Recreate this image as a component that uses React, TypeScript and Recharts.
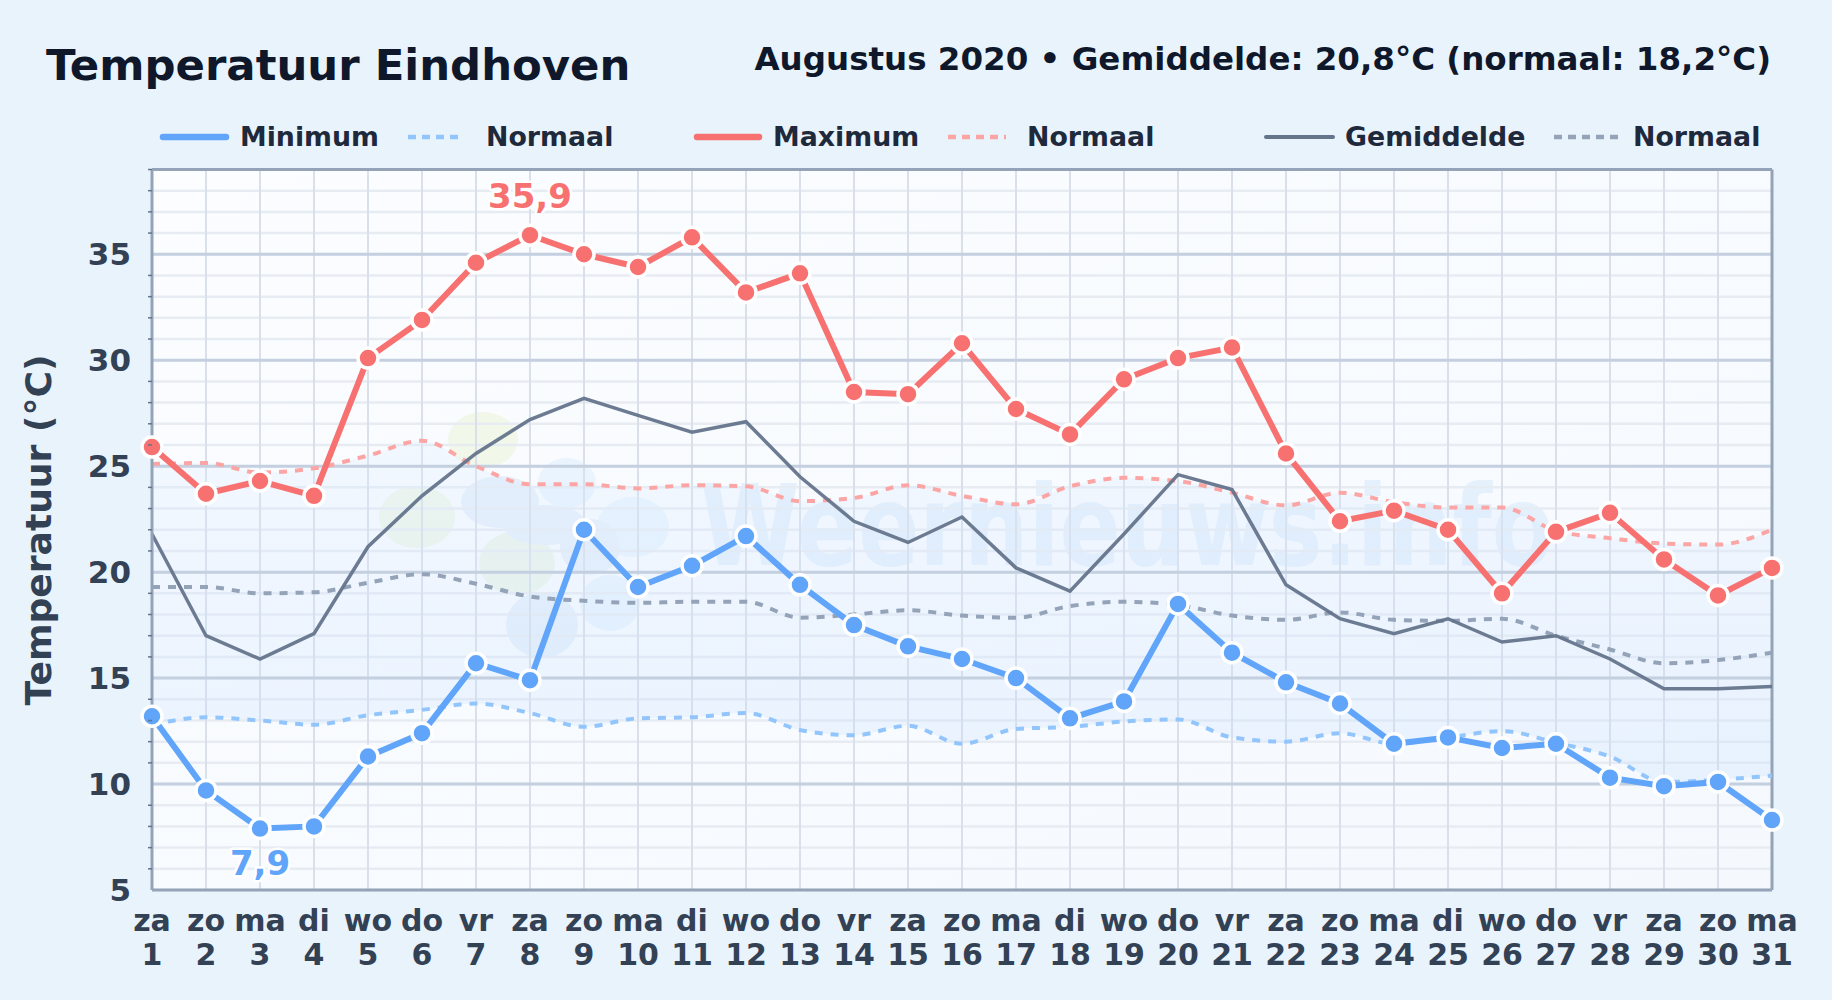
import React from "react";
import { ComposedChart, Line, Area, XAxis, YAxis, CartesianGrid, ReferenceLine } from "recharts";

const days = [1,2,3,4,5,6,7,8,9,10,11,12,13,14,15,16,17,18,19,20,21,22,23,24,25,26,27,28,29,30,31];
const weekdays = ["za","zo","ma","di","wo","do","vr","za","zo","ma","di","wo","do","vr","za","zo","ma","di","wo","do","vr","za","zo","ma","di","wo","do","vr","za","zo","ma"];
const maximum = [25.9,23.7,24.3,23.6,30.1,31.9,34.6,35.9,35.0,34.4,35.8,33.2,34.1,28.5,28.4,30.8,27.7,26.5,29.1,30.1,30.6,25.6,22.4,22.9,22.0,19.0,21.9,22.8,20.6,18.9,20.2];
const minimum = [13.2,9.7,7.9,8.0,11.3,12.4,15.7,14.9,22.0,19.3,20.3,21.7,19.4,17.5,16.5,15.9,15.0,13.1,13.9,18.5,16.2,14.8,13.8,11.9,12.2,11.7,11.9,10.3,9.9,10.1,8.3];
const gemiddelde = [21.8,17.0,15.9,17.1,21.2,23.6,25.6,27.2,28.2,27.4,26.6,27.1,24.5,22.4,21.4,22.6,20.2,19.1,21.8,24.6,23.9,19.4,17.8,17.1,17.8,16.7,17.0,15.9,14.5,14.5,14.6];
const normaalMax = [25.1,25.15,24.7,24.9,25.5,26.2,25.0,24.15,24.15,23.95,24.1,24.05,23.35,23.5,24.1,23.6,23.2,24.05,24.45,24.3,23.75,23.15,23.75,23.3,23.05,23.05,21.95,21.6,21.35,21.3,22.0];
const normaalGem = [19.3,19.3,19.0,19.05,19.5,19.9,19.45,18.85,18.65,18.55,18.6,18.6,17.85,18.0,18.2,17.95,17.85,18.4,18.6,18.45,17.95,17.75,18.1,17.75,17.7,17.8,17.0,16.35,15.7,15.85,16.2];
const normaalMin = [12.8,13.15,13.0,12.8,13.25,13.5,13.8,13.35,12.7,13.1,13.15,13.35,12.55,12.3,12.75,11.9,12.6,12.7,12.95,13.05,12.2,12.0,12.4,11.9,12.2,12.5,11.95,11.3,10.1,10.2,10.4];
const yTicks = [5,6,7,8,9,10,11,12,13,14,15,16,17,18,19,20,21,22,23,24,25,26,27,28,29,30,31,32,33,34,35,36,37,38,39];
const majorTicks = [10,15,20,25,30,35];

const data = days.map((day, i) => ({
  day,
  weekday: weekdays[i],
  max: maximum[i],
  min: minimum[i],
  gem: gemiddelde[i],
  nMax: normaalMax[i],
  nGem: normaalGem[i],
  nMin: normaalMin[i],
  band: [normaalMin[i], normaalMax[i]],
}));

const FONT = "'DejaVu Sans', sans-serif";
const PLOT = { left: 152, top: 169.5, right: 1772, bottom: 890 };
const BLUE = "#60a5fa";
const RED = "#f87171";
const SLATE = "#64748b";
const NMIN = "#93c5fd";
const NMAX = "#fca5a5";
const NGEM = "#94a3b8";

const legendItems = [
  { label: "Minimum", x1: 163, x2: 226, tx: 240, color: BLUE, w: 6.5, dash: false },
  { label: "Normaal", x1: 408, x2: 464, tx: 486, color: NMIN, w: 4.5, dash: true },
  { label: "Maximum", x1: 697, x2: 759, tx: 773, color: RED, w: 6.5, dash: false },
  { label: "Normaal", x1: 948, x2: 1006, tx: 1027, color: NMAX, w: 4.5, dash: true },
  { label: "Gemiddelde", x1: 1266, x2: 1333, tx: 1345, color: SLATE, w: 4, dash: false },
  { label: "Normaal", x1: 1554, x2: 1618, tx: 1633, color: NGEM, w: 4.5, dash: true },
];

const blobs = [
  { cx: 483, cy: 440, rx: 35, ry: 28, fill: "#f1f8e9" },
  { cx: 417, cy: 517, rx: 38, ry: 31, fill: "#eff7ea" },
  { cx: 517, cy: 563, rx: 38, ry: 32, fill: "#edf6eb" },
  { cx: 567, cy: 483, rx: 29, ry: 25, fill: "#e9f4fe" },
  { cx: 633, cy: 527, rx: 36, ry: 30, fill: "#e9f4fe" },
  { cx: 610, cy: 603, rx: 30, ry: 28, fill: "#e9f4fe" },
  { cx: 500, cy: 502, rx: 39, ry: 26, fill: "#e6f0fb" },
  { cx: 545, cy: 525, rx: 42, ry: 20, fill: "#e6f0fb" },
  { cx: 590, cy: 547, rx: 30, ry: 28, fill: "#e6f0fb" },
  { cx: 542, cy: 625, rx: 36, ry: 33, fill: "#e6f0fb" },
];

const YTick = (props: any) => {
  const { y, payload } = props;
  const v = payload.value;
  if (v % 5 === 0) {
    return (
      <text x={PLOT.left - 21} y={y + 11} textAnchor="end" fontFamily={FONT} fontWeight={700} fontSize={31} fill="#334155">
        {v}
      </text>
    );
  }
  return <line x1={PLOT.left - 4} x2={PLOT.left} y1={y} y2={y} stroke="#64748b" strokeWidth={1.5} />;
};

const XTick = (props: any) => {
  const { x, payload, index } = props;
  return (
    <text textAnchor="middle" fontFamily={FONT} fontWeight={700} fontSize={30} fill="#334155">
      <tspan x={x} y={931}>{weekdays[index]}</tspan>
      <tspan x={x} y={965}>{payload.value}</tspan>
    </text>
  );
};

const peakLabel = (values: number[], pick: number, color: string, dy: number) => (props: any) => {
  const { x, y, index } = props;
  if (values[index] !== pick) return <g />;
  return (
    <text x={x} y={y + dy} textAnchor="middle" fontFamily={FONT} fontWeight={700} fontSize={34} fill={color}
      stroke="#ffffff" strokeWidth={5} strokeLinejoin="round" paintOrder="stroke">
      {String(pick).replace(".", ",")}
    </text>
  );
};

const dotStyle = (color: string) => ({ r: 10, fill: color, stroke: "#ffffff", strokeWidth: 3.5 });

export default function App() {
  return (
    <div style={{ position: "absolute", left: 0, top: 0, width: 1832, height: 1000, background: "#e9f3fc", overflow: "hidden" }}>
      <svg width={1832} height={1000} style={{ position: "absolute", left: 0, top: 0 }}>
        <defs>
          <linearGradient id="plotBg" x1="0" y1="0" x2="1" y2="1">
            <stop offset="0%" stopColor="#fbfdff" />
            <stop offset="100%" stopColor="#f5f9fe" />
          </linearGradient>
        </defs>
        <rect x={PLOT.left} y={PLOT.top} width={PLOT.right - PLOT.left} height={PLOT.bottom - PLOT.top} fill="url(#plotBg)" />
        {blobs.map((b, i) => (
          <ellipse key={i} cx={b.cx} cy={b.cy} rx={b.rx} ry={b.ry} fill={b.fill} />
        ))}
        <text x={700} y={565} fontFamily={FONT} fontWeight={700} fontSize={112} fill="#e4f0fc"
          textLength={854} lengthAdjust="spacingAndGlyphs">Weernieuws.info</text>
      </svg>
      <div style={{ position: "absolute", left: 0, top: 0 }}>
        <ComposedChart width={1832} height={1000} data={data}
          margin={{ left: 0, top: PLOT.top, right: 1832 - PLOT.right, bottom: 0 }}>
          <defs>
            <linearGradient id="bandFill" x1="0" y1="0" x2="0" y2="1">
              <stop offset="0%" stopColor="#dbeafe" stopOpacity={0.4} />
              <stop offset="100%" stopColor="#bfdbfe" stopOpacity={0.42} />
            </linearGradient>
          </defs>
          <CartesianGrid stroke="#e7ecf3" strokeWidth={2.5} vertical={false} />
          <CartesianGrid stroke="#d9e0ea" strokeWidth={2} horizontal={false} />
          {majorTicks.map((t) => (
            <ReferenceLine key={t} y={t} stroke="#c4d0e0" strokeWidth={3} />
          ))}
          <XAxis dataKey="day" type="category" scale="point" padding={{ left: 0, right: 0 }} interval={0}
            axisLine={{ stroke: "#94a3b8", strokeWidth: 3 }} tickLine={false} tick={<XTick />} height={1000 - PLOT.bottom} />
          <YAxis type="number" domain={[5, 39]} ticks={yTicks} interval={0} width={PLOT.left}
            axisLine={{ stroke: "#94a3b8", strokeWidth: 3 }} tickLine={false} tick={<YTick />} />
          <ReferenceLine y={39} stroke="#94a3b8" strokeWidth={3} />
          <ReferenceLine x={31} stroke="#94a3b8" strokeWidth={3} />
          <Area dataKey="band" type="monotone" fill="url(#bandFill)" stroke="none" dot={false} activeDot={false} isAnimationActive={false} />
          <Line dataKey="nMin" type="monotone" stroke={NMIN} strokeWidth={4} strokeDasharray="8 8" dot={false} activeDot={false} isAnimationActive={false} />
          <Line dataKey="nMax" type="monotone" stroke={NMAX} strokeWidth={4} strokeDasharray="8 8" dot={false} activeDot={false} isAnimationActive={false} />
          <Line dataKey="nGem" type="monotone" stroke={NGEM} strokeWidth={4} strokeDasharray="8 8" dot={false} activeDot={false} isAnimationActive={false} />
          <Line dataKey="gem" type="linear" stroke={SLATE} strokeWidth={3.5} strokeOpacity={0.95} dot={false} activeDot={false} isAnimationActive={false} />
          <Line dataKey="max" type="linear" stroke={RED} strokeWidth={6} dot={dotStyle(RED)} activeDot={false}
            label={peakLabel(maximum, 35.9, RED, -27)} isAnimationActive={false} />
          <Line dataKey="min" type="linear" stroke={BLUE} strokeWidth={6} dot={dotStyle(BLUE)} activeDot={false}
            label={peakLabel(minimum, 7.9, BLUE, 46)} isAnimationActive={false} />
        </ComposedChart>
      </div>
      <svg width={1832} height={1000} style={{ position: "absolute", left: 0, top: 0, pointerEvents: "none" }}>
        <text x={46} y={80} fontFamily={FONT} fontWeight={700} fontSize={43.4} fill="#0f172a">Temperatuur Eindhoven</text>
        <text x={1771} y={70} textAnchor="end" fontFamily={FONT} fontWeight={700} fontSize={32.5} fill="#0f172a">
          Augustus 2020 • Gemiddelde: 20,8°C (normaal: 18,2°C)
        </text>
        {legendItems.map((it, i) => (
          <g key={i}>
            <line x1={it.x1} x2={it.x2} y1={137} y2={137} stroke={it.color} strokeWidth={it.w}
              strokeLinecap={it.dash ? "butt" : "round"} strokeDasharray={it.dash ? "8 6" : undefined} />
            <text x={it.tx} y={146} fontFamily={FONT} fontWeight={700} fontSize={26.8} fill="#1e293b">{it.label}</text>
          </g>
        ))}
        <text transform="translate(51,530) rotate(-90)" textAnchor="middle" fontFamily={FONT} fontWeight={700} fontSize={36.1} fill="#334155">
          Temperatuur (°C)
        </text>
      </svg>
    </div>
  );
}
